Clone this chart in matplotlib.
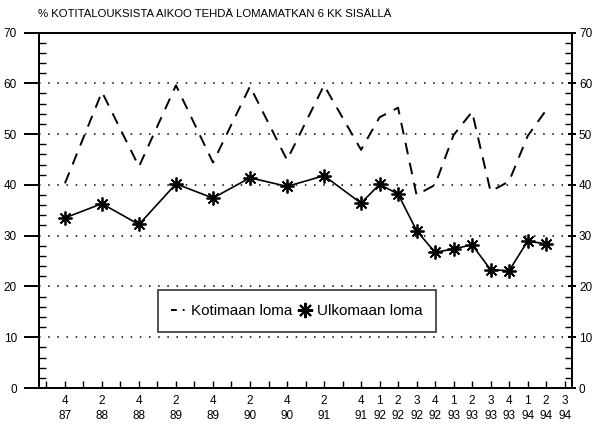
import numpy as np
import matplotlib
matplotlib.use("Agg")
import matplotlib.pyplot as plt
from matplotlib.lines import Line2D

plt.rcParams['font.family'] = ['Liberation Sans', 'DejaVu Sans']

# quarters from 3/87 to 3/94, one entry per quarter
quarters = ["3/87", "4/87", "1/88", "2/88", "3/88", "4/88", "1/89", "2/89", "3/89", "4/89",
            "1/90", "2/90", "3/90", "4/90", "1/91", "2/91", "3/91", "4/91",
            "1/92", "2/92", "3/92", "4/92", "1/93", "2/93", "3/93", "4/93",
            "1/94", "2/94", "3/94"]
labelled = ["4/87", "2/88", "4/88", "2/89", "4/89", "2/90", "4/90", "2/91", "4/91",
            "1/92", "2/92", "3/92", "4/92", "1/93", "2/93", "3/93", "4/93",
            "1/94", "2/94", "3/94"]

# survey points
survey = ["4/87", "2/88", "4/88", "2/89", "4/89", "2/90", "4/90", "2/91", "4/91",
          "1/92", "2/92", "3/92", "4/92", "1/93", "2/93", "3/93", "4/93", "1/94", "2/94"]
kotimaan = [40.3, 58.3, 43.6, 59.6, 44.4, 59.4, 44.9, 59.6, 46.9,
            53.3, 55.2, 38.0, 40.0, 49.8, 54.4, 38.7, 40.7, 49.6, 54.7]
ulkomaan = [33.5, 36.3, 32.2, 40.2, 37.4, 41.4, 39.7, 41.8, 36.4,
            40.1, 38.2, 31.0, 26.7, 27.4, 28.2, 23.3, 23.1, 28.9, 28.4]

xq = np.arange(len(quarters))
xs = np.array([quarters.index(q) for q in survey])

fig = plt.figure(figsize=(5.93, 4.24), dpi=100)
ax = fig.add_axes([0.0658, 0.0849, 0.8988, 0.8384])

for g in range(10, 70, 10):
    ax.axhline(g, color='black', lw=1.1, ls=(0, (1, 5)), zorder=1)

ax.plot(xs, kotimaan, color='black', lw=1.4, ls=(0, (6, 4.5)), zorder=2)
ax.plot(xs, ulkomaan, color='black', lw=1.2, marker=(8, 2, 0), ms=10, mew=1.3, zorder=3)

ax.set_xlim(-0.4, 28.4)
ax.set_ylim(0, 70)

ax.set_xticks(xq)
ax.set_xticklabels([q.replace("/", "\n") if q in labelled else "" for q in quarters],
                   fontsize=8.5, linespacing=1.3)
ax.tick_params(axis='x', direction='in', length=5, width=1, pad=5)

# left axis: major out, minor in
ax.set_yticks(range(0, 71, 10))
ax.set_yticks(range(0, 71, 2), minor=True)
ax.tick_params(axis='y', which='major', direction='out', length=11, width=1.4,
               labelsize=8.5, pad=5, right=False)
ax.tick_params(axis='y', which='minor', direction='in', length=5, width=1, right=False)

# right axis
ax2 = ax.twinx()
ax2.set_ylim(0, 70)
ax2.set_yticks(range(0, 71, 10))
ax2.set_yticks(range(0, 71, 2), minor=True)
ax2.tick_params(axis='y', which='major', direction='inout', length=6, width=1.4,
                labelsize=8.5, pad=2)
ax2.tick_params(axis='y', which='minor', direction='in', length=5, width=1)

for a in (ax, ax2):
    for s in a.spines.values():
        s.set_linewidth(1.3)

fig.text(0.064, 0.967, "% KOTITALOUKSISTA AIKOO TEHDÄ LOMAMATKAN 6 KK SISÄLLÄ",
         fontsize=8.2, ha='left', va='center')

handles = [Line2D([], [], color='black', lw=1.4, ls=(0, (3, 3, 1, 3))),
           Line2D([], [], color='black', lw=0, marker=(8, 2, 0), ms=11, mew=1.5)]
leg = ax2.legend(handles, ["Kotimaan loma", "Ulkomaan loma"], ncol=2, loc='center',
                 bbox_to_anchor=(0.484, 0.217), fontsize=11, frameon=True, fancybox=False,
                 edgecolor='black', handlelength=1.0, handletextpad=0.3, columnspacing=0.3,
                 borderpad=0.9, borderaxespad=0)
leg.get_frame().set_linewidth(1.2)

fig.savefig("out.png", dpi=100)
